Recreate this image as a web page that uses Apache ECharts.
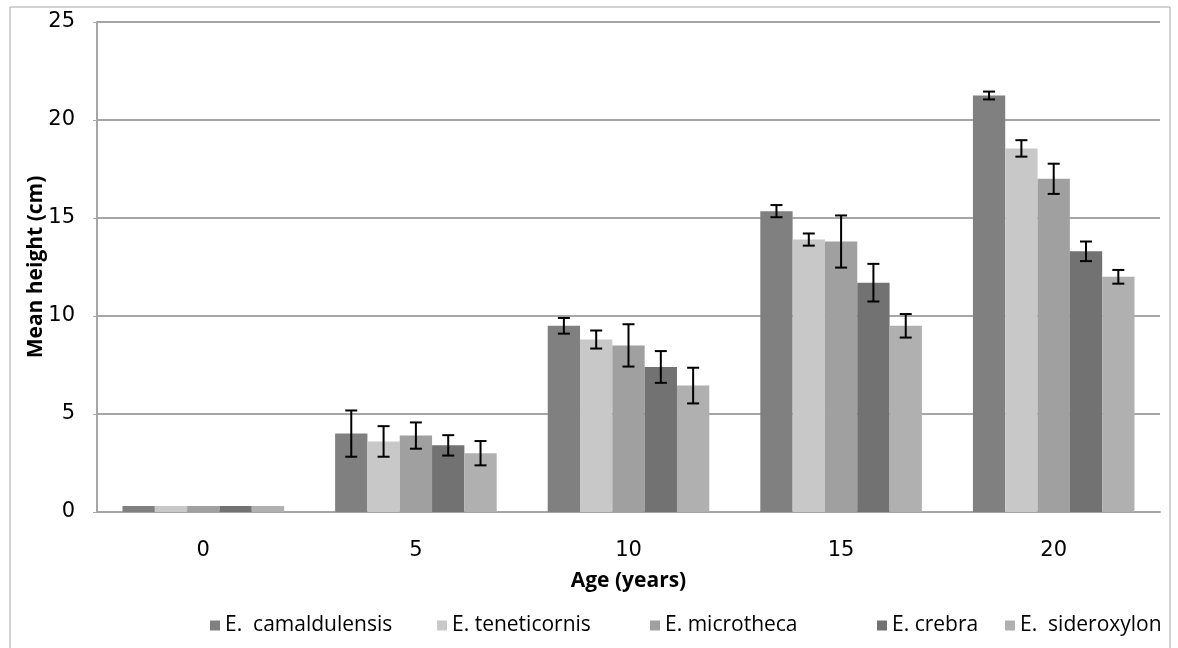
<!DOCTYPE html>
<html>
<head>
<meta charset="utf-8">
<script src="https://cdn.jsdelivr.net/npm/echarts@6/dist/echarts.min.js"></script>
<style>
html,body{margin:0;padding:0;background:#fff;}
#c{width:1178px;height:648px;}
</style>
</head>
<body>
<div id="c"></div>
<script>
const ages = ['0', '5', '10', '15', '20'];
const seriesNames = ['E.  camaldulensis', 'E. teneticornis', 'E. microtheca', 'E. crebra', 'E.  sideroxylon'];
const camaldulensis = [0.3, 4.0, 9.5, 15.35, 21.25];
const teneticornis = [0.3, 3.6, 8.8, 13.9, 18.55];
const microtheca = [0.3, 3.9, 8.5, 13.8, 17.0];
const crebra = [0.3, 3.4, 7.4, 11.7, 13.3];
const sideroxylon = [0.3, 3.0, 6.45, 9.5, 12.0];
const errCamaldulensis = [0, 1.18, 0.4, 0.31, 0.2];
const errTeneticornis = [0, 0.78, 0.46, 0.31, 0.42];
const errMicrotheca = [0, 0.67, 1.08, 1.33, 0.77];
const errCrebra = [0, 0.52, 0.81, 0.96, 0.5];
const errSideroxylon = [0, 0.62, 0.91, 0.6, 0.35];
const yTicks = [0, 5, 10, 15, 20, 25];

const values = [camaldulensis, teneticornis, microtheca, crebra, sideroxylon];
const errors = [errCamaldulensis, errTeneticornis, errMicrotheca, errCrebra, errSideroxylon];
const colors = ['#808080', '#c8c8c8', '#a0a0a0', '#727272', '#b0b0b0'];
const legendLefts = [205, 432, 645, 872, 1000];
const GAP = 0.24;

const chart = echarts.init(document.getElementById('c'));
const series = [];
values.forEach((v, i) => {
  series.push({
    name: seriesNames[i], type: 'bar', data: v,
    barGap: '0%', barCategoryGap: (GAP * 100) + '%',
    itemStyle: { color: colors[i] }, z: 2
  });
});
values.forEach((v, i) => {
  const data = v.map((val, k) => errors[i][k] > 0 ? [k, val - errors[i][k], val + errors[i][k]] : null).filter(d => d);
  series.push({
    name: 'err' + i, type: 'custom', z: 5,
    data: data,
    encode: { x: 0, y: [1, 2] },
    renderItem: function (params, api) {
      const catW = api.size([1, 0])[0];
      const bw = catW * (1 - GAP) / 5;
      const cx = api.coord([api.value(0), 0])[0] + (i - 2) * bw;
      const yl = api.coord([api.value(0), api.value(1)])[1];
      const yh = api.coord([api.value(0), api.value(2)])[1];
      const hw = 6;
      const st = { stroke: '#000', lineWidth: 2 };
      return {
        type: 'group',
        children: [
          { type: 'line', shape: { x1: cx, y1: yl, x2: cx, y2: yh }, style: st },
          { type: 'line', shape: { x1: cx - hw, y1: yl, x2: cx + hw, y2: yl }, style: st },
          { type: 'line', shape: { x1: cx - hw, y1: yh, x2: cx + hw, y2: yh }, style: st }
        ]
      };
    }
  });
});

const legends = seriesNames.map((n, i) => ({
  data: [n],
  left: legendLefts[i], top: 610,
  itemWidth: 10, itemHeight: 10, itemGap: 0,
  icon: 'rect',
  textStyle: { fontFamily: 'Open Sans', fontSize: 21, color: '#000' }
}));

chart.setOption({
  animation: false,
  backgroundColor: '#fff',
  graphic: [{
    type: 'rect', shape: { x: 10, y: 7, width: 1160, height: 700 },
    style: { fill: 'none', stroke: '#a6a6a6', lineWidth: 1 }, z: -1
  }],
  grid: { left: 97, right: 18, top: 22, bottom: 136 },
  legend: legends,
  xAxis: {
    type: 'category', data: ages,
    name: 'Age (years)', nameLocation: 'middle', nameGap: 59,
    nameMoveOverlap: false,
    nameTextStyle: { fontFamily: 'Open Sans', fontWeight: 'bold', fontSize: 21, color: '#000' },
    axisLine: { lineStyle: { color: '#a6a6a6', width: 2 } },
    axisTick: { show: false },
    axisLabel: { fontFamily: 'DejaVu Sans', fontSize: 21, color: '#000', margin: 28 }
  },
  yAxis: {
    type: 'value', min: 0, max: 25, interval: 5,
    name: 'Mean height (cm)', nameLocation: 'middle', nameGap: 50,
    nameMoveOverlap: false,
    nameTextStyle: { fontFamily: 'Open Sans', fontWeight: 'bold', fontSize: 21, color: '#000' },
    axisLine: { show: true, lineStyle: { color: '#a6a6a6', width: 2 } },
    axisTick: { show: true, length: 4, lineStyle: { color: '#a6a6a6', width: 1 } },
    axisLabel: { fontFamily: 'DejaVu Sans', fontSize: 21, color: '#000', margin: 22,
      formatter: v => yTicks.includes(v) ? String(v) : '' },
    splitLine: { lineStyle: { color: '#a6a6a6', width: 2 } }
  },
  series: series
});
</script>
</body>
</html>
